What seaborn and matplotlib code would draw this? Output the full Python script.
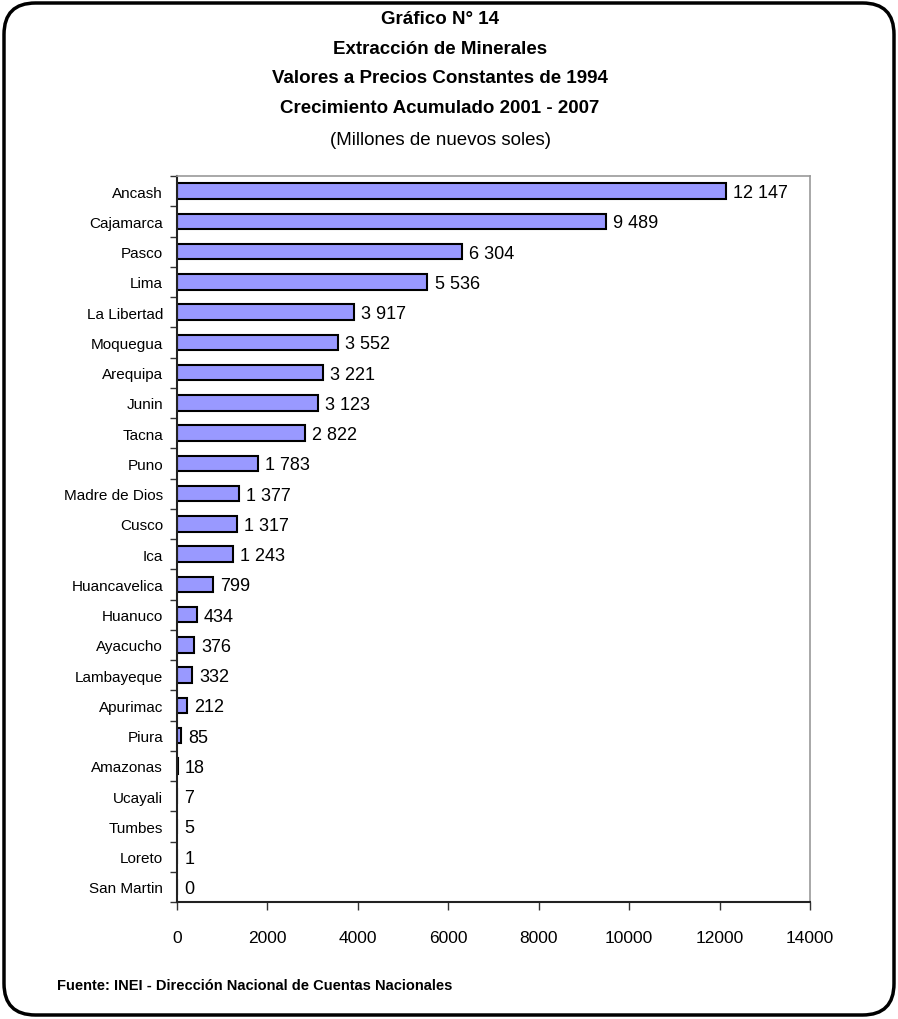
import matplotlib
matplotlib.use("Agg")
import matplotlib.pyplot as plt
import seaborn as sns
import pandas as pd
from matplotlib.patches import FancyBboxPatch
from matplotlib.ticker import FixedLocator

regions = ["Ancash", "Cajamarca", "Pasco", "Lima", "La Libertad", "Moquegua", "Arequipa",
           "Junin", "Tacna", "Puno", "Madre de Dios", "Cusco", "Ica", "Huancavelica",
           "Huanuco", "Ayacucho", "Lambayeque", "Apurimac", "Piura", "Amazonas",
           "Ucayali", "Tumbes", "Loreto", "San Martin"]
values = [12147, 9489, 6304, 5536, 3917, 3552, 3221, 3123, 2822, 1783, 1377, 1317, 1243,
          799, 434, 376, 332, 212, 85, 18, 7, 5, 1, 0]
x_ticks = [0, 2000, 4000, 6000, 8000, 10000, 12000, 14000]

title_lines = ["Gráfico N° 14", "Extracción de Minerales",
               "Valores a Precios Constantes de 1994", "Crecimiento Acumulado 2001 - 2007"]
subtitle = "(Millones de nuevos soles)"
source = "Fuente: INEI - Dirección Nacional de Cuentas Nacionales"

sns.set_style("white")
plt.rcParams['font.family'] = ['Liberation Sans Narrow', 'Liberation Sans', 'DejaVu Sans']
plt.rcParams['text.color'] = 'black'
plt.rcParams['xtick.color'] = 'black'
plt.rcParams['ytick.color'] = 'black'

df = pd.DataFrame({"region": regions, "value": values})

fig = plt.figure(figsize=(8.98, 10.2), dpi=100)
ax = fig.add_axes([177/898, 1 - 903/1020, (810-177)/898, (903-177)/1020])

sns.barplot(data=df, y="region", x="value", orient="h", color="#9999FF",
            saturation=1, edgecolor="black", linewidth=1.5, width=0.52, ax=ax)

ax.set_xlim(0, 14000)
ax.set_ylim(len(regions) - 0.5, -0.5)
ax.set_xlabel("")
ax.set_ylabel("")
ax.xaxis.set_major_locator(FixedLocator(x_ticks))
ax.set_xticklabels([str(t) for t in x_ticks], fontsize=12.5)
ax.tick_params(axis="x", direction="out", length=6, width=1, color="#333333",
               labelcolor="black", pad=14, bottom=True)
ax.tick_params(axis="y", which="major", length=0, labelsize=11, labelcolor="black", pad=10)
ax.yaxis.set_minor_locator(FixedLocator([i + 0.5 for i in range(-1, len(regions))]))
ax.tick_params(axis="y", which="minor", direction="out", length=5, width=1, color="#333333", left=True)

for side in ["left", "bottom"]:
    ax.spines[side].set_color("#222222")
    ax.spines[side].set_linewidth(1.5)
for side in ["top", "right"]:
    ax.spines[side].set_color("#999999")
    ax.spines[side].set_linewidth(1.2)

for i, v in enumerate(values):
    ax.text(v + 160, i + 0.05, f"{v:,}".replace(",", " "), va="center", ha="left",
            fontsize=13, color="black")

for k, line in enumerate(title_lines):
    fig.text(440/898, 1 - (19 + 30*k)/1020, line, ha="center", va="center",
             fontsize=13.5, fontweight="bold", color="black")
fig.text(440/898, 1 - 141/1020, subtitle, ha="center", va="center", fontsize=13.5, color="black")
fig.text(57/898, 1 - 986/1020, source, ha="left", va="center", fontsize=10.5,
         fontweight="bold", color="black")

border = FancyBboxPatch((4/898, 4/1020), 890/898, 1012/1020,
                        boxstyle="round,pad=0,rounding_size=0.035",
                        transform=fig.transFigure, fill=False, edgecolor="black",
                        linewidth=2.5, mutation_aspect=898/1020)
fig.patches.append(border)

fig.savefig("out.png", dpi=100)
